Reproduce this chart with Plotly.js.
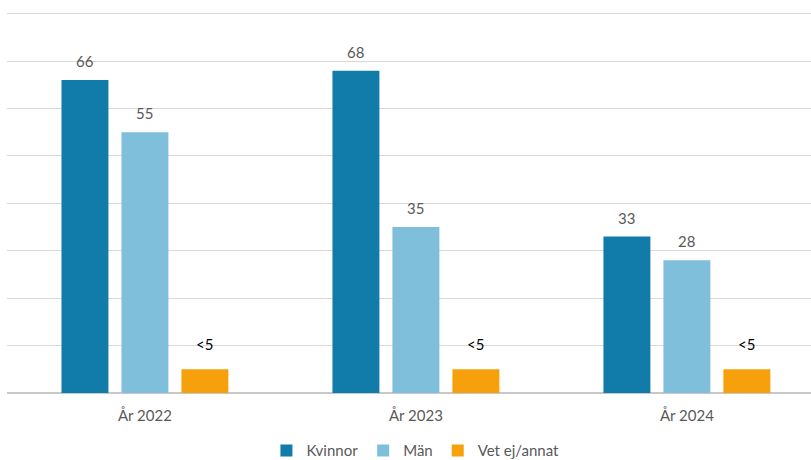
<!DOCTYPE html>
<html>
<head>
<meta charset="utf-8">
<script src="https://cdn.plot.ly/plotly-3.0.1.min.js"></script>
<style>html,body{margin:0;padding:0;background:#fff;}#chart{width:811px;height:460px;}</style>
</head>
<body>
<div id="chart"></div>
<script>
const categories = ["År 2022", "År 2023", "År 2024"];
const seriesNames = ["Kvinnor", "Män", "Vet ej/annat"];
const kvinnor = [66, 68, 33];
const man = [55, 35, 28];
const vetEj = [5, 5, 5];
const kvinnorLabels = ["66", "68", "33"];
const manLabels = ["55", "35", "28"];
const vetEjLabels = ["<5", "<5", "<5"];

const colors = ["#117baa", "#7fbfdb", "#f6a00b"];
const values = [kvinnor, man, vetEj];
const labels = [kvinnorLabels, manLabels, vetEjLabels];

const traces = values.map((v, i) => ({
  type: "bar",
  name: seriesNames[i],
  x: categories,
  y: v,
  marker: {color: colors[i]},
  hoverinfo: "none"
}));

const annotations = [];
values.forEach((v, i) => {
  v.forEach((val, j) => {
    annotations.push({
      x: categories[j], y: val, xref: "x", yref: "y",
      text: labels[i][j], showarrow: false,
      xanchor: "center", yanchor: "bottom",
      xshift: (i - 1) * 60,
      yshift: i === 2 ? 14 : 8,
      font: {family: "Lato, 'Open Sans', sans-serif", size: 15, color: i === 2 ? "#000000" : "#595959"}
    });
  });
});

const layout = {
  width: 811, height: 460,
  margin: {l: 7, r: 0, t: 9, b: 67, autoexpand: false},
  paper_bgcolor: "#ffffff", plot_bgcolor: "#ffffff",
  barmode: "group",
  bargap: 0.336, bargroupgap: 0.217,
  font: {family: "Lato, 'Open Sans', sans-serif", size: 15, color: "#595959"},
  xaxis: {
    type: "category", range: [-0.509, 2.458],
    showgrid: false, zeroline: false, showline: false,
    ticks: "", tickfont: {size: 15, color: "#595959"}, ticklabelstandoff: 12
  },
  yaxis: {
    range: [0, 81], dtick: 10, showticklabels: false,
    gridcolor: "#d9d9d9", gridwidth: 1,
    zeroline: true, zerolinecolor: "#c8c8c8", zerolinewidth: 2,
    showline: false, fixedrange: true
  },
  showlegend: true,
  legend: {
    orientation: "h", x: 0.508, xanchor: "center",
    yref: "container", y: 0.02, yanchor: "middle",
    font: {size: 15, color: "#595959"}, itemwidth: 30, traceorder: "normal"
  },
  annotations: annotations
};

Plotly.newPlot("chart", traces, layout, {staticPlot: true, displayModeBar: false});
</script>
</body>
</html>
